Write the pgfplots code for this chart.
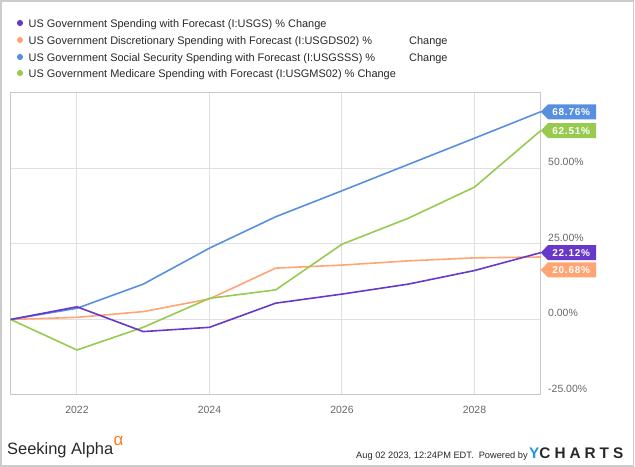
\documentclass[border=0pt]{standalone}
\usepackage{fontspec}
\setmainfont{Liberation Sans}
\usepackage{pgfplots}
\pgfplotsset{compat=1.18}
\definecolor{cPurple}{RGB}{104,56,200}
\definecolor{cOrange}{RGB}{255,164,114}
\definecolor{cBlue}{RGB}{88,144,224}
\definecolor{cGreen}{RGB}{152,202,80}
\definecolor{frameGray}{RGB}{204,204,204}
\definecolor{axisGray}{RGB}{200,200,200}
\definecolor{gridGray}{RGB}{224,224,224}
\definecolor{labelGray}{RGB}{102,102,102}
\definecolor{textDark}{RGB}{40,40,40}
\definecolor{saOrange}{RGB}{255,122,20}
\definecolor{ycBlue}{RGB}{30,152,222}
\newcommand{\valtag}[3]{%
  \fill[#2] (#1) -- ++(7.3bp,7.5bp) -- ++(48bp,0bp) -- ++(0bp,-15bp) -- ++(-48bp,0bp) -- cycle;
  \node[text=white, inner sep=0pt, anchor=center,
    font=\fontsize{10}{12}\selectfont\bfseries\addfontfeature{LetterSpace=8}] at ([xshift=30.5bp]#1) {#3};
}
\begin{document}
\begin{tikzpicture}
\useasboundingbox (0bp,0bp) rectangle (635bp,467bp);
\draw[frameGray, line width=1.3bp] (0.9bp,0.9bp) rectangle (633.6bp,466.1bp);
% legend
\foreach \yy/\cc in {444/cPurple, 427/cOrange, 410/cBlue, 394/cGreen} {
  \fill[\cc] (20bp,\yy bp) circle (3.1bp);
}
\begin{scope}[every node/.style={anchor=base west, inner sep=0pt, text=textDark, font=\fontsize{11}{13}\selectfont}]
\node at (28.5bp,439.7bp) {US Government Spending with Forecast (I:USGS) \% Change};
\node at (28.5bp,422.7bp) {US Government Discretionary Spending with Forecast (I:USGDS02) \%};
\node at (409bp,422.7bp) {Change};
\node at (28.5bp,405.7bp) {US Government Social Security Spending with Forecast (I:USGSSS) \%};
\node at (409bp,405.7bp) {Change};
\node at (28.5bp,389.7bp) {US Government Medicare Spending with Forecast (I:USGMS02) \% Change};
\end{scope}
\begin{axis}[
  at={(10.7bp,72bp)}, anchor=south west, scale only axis,
  width=530bp, height=302.7bp,
  xmin=2021, xmax=2029, ymin=-25, ymax=75.2,
  clip=false,
  axis line style={axisGray, line width=1bp},
  grid=major, major grid style={gridGray, line width=1bp},
  xtick={2022,2024,2026,2028}, ytick={-25,0,25,50},
  major tick length=0pt,
  /pgf/number format/assume math mode=true,
  xticklabel style={/pgf/number format/1000 sep={}, anchor=base, inner sep=0pt, yshift=-18.5bp, text=labelGray, font=\fontsize{10.5}{12}\selectfont},
  yticklabel pos=right,
  yticklabel={\pgfmathprintnumber[fixed,fixed zerofill,precision=2]{\tick}\%},
  yticklabel style={anchor=base west, inner sep=0pt, xshift=7.3bp, yshift=2.5bp, text=labelGray, font=\fontsize{10.5}{12}\selectfont},
]
\addplot[cOrange, line width=1.6bp] coordinates {
 (2021,0) (2022,0.7) (2023,2.6) (2024,6.8) (2025,17.0) (2026,18.0) (2027,19.4) (2028,20.4) (2029,20.68)};
\addplot[cGreen, line width=1.6bp] coordinates {
 (2021,0) (2022,-10.1) (2023,-2.6) (2024,7.0) (2025,9.8) (2026,24.9) (2027,33.5) (2028,43.8) (2029,62.51)};
\addplot[cBlue, line width=1.6bp] coordinates {
 (2021,0) (2022,3.7) (2023,11.7) (2024,23.6) (2025,34.0) (2026,42.6) (2027,51.3) (2028,60.0) (2029,68.76)};
\addplot[cPurple, line width=1.6bp] coordinates {
 (2021,0) (2022,4.2) (2023,-4.0) (2024,-2.6) (2025,5.4) (2026,8.4) (2027,11.7) (2028,16.2) (2029,22.12)};
\coordinate (tBlue) at (axis cs:2029,68.76);
\coordinate (tGreen) at (axis cs:2029,62.51);
\coordinate (tPurple) at (axis cs:2029,22.12);
\coordinate (tOrange) at (axis cs:2029,16.4);
\end{axis}
\valtag{tBlue}{cBlue}{68.76\%}
\valtag{tGreen}{cGreen}{62.51\%}
\valtag{tPurple}{cPurple}{22.12\%}
\valtag{tOrange}{cOrange}{20.68\%}
% footer
\node[anchor=base west, inner sep=0pt, text=textDark, font=\fontsize{16.5}{18}\selectfont] at (7bp,13bp) {Seeking Alpha};
\node[anchor=base west, inner sep=0pt, text=saOrange, font=\fontsize{17}{18}\selectfont] at (113.5bp,22bp) {α};
\node[anchor=base west, inner sep=0pt, text=textDark, font=\fontsize{9.3}{11}\selectfont] at (356bp,9bp) {Aug 02 2023, 12:24PM EDT.\ \ Powered by};
\node[anchor=base west, inner sep=0pt, font=\fontsize{15.4}{17}\selectfont\bfseries\addfontfeature{LetterSpace=26}] at (529bp,9bp) {\textcolor{ycBlue}{Y}\textcolor{textDark}{CHARTS}};
\end{tikzpicture}
\end{document}
